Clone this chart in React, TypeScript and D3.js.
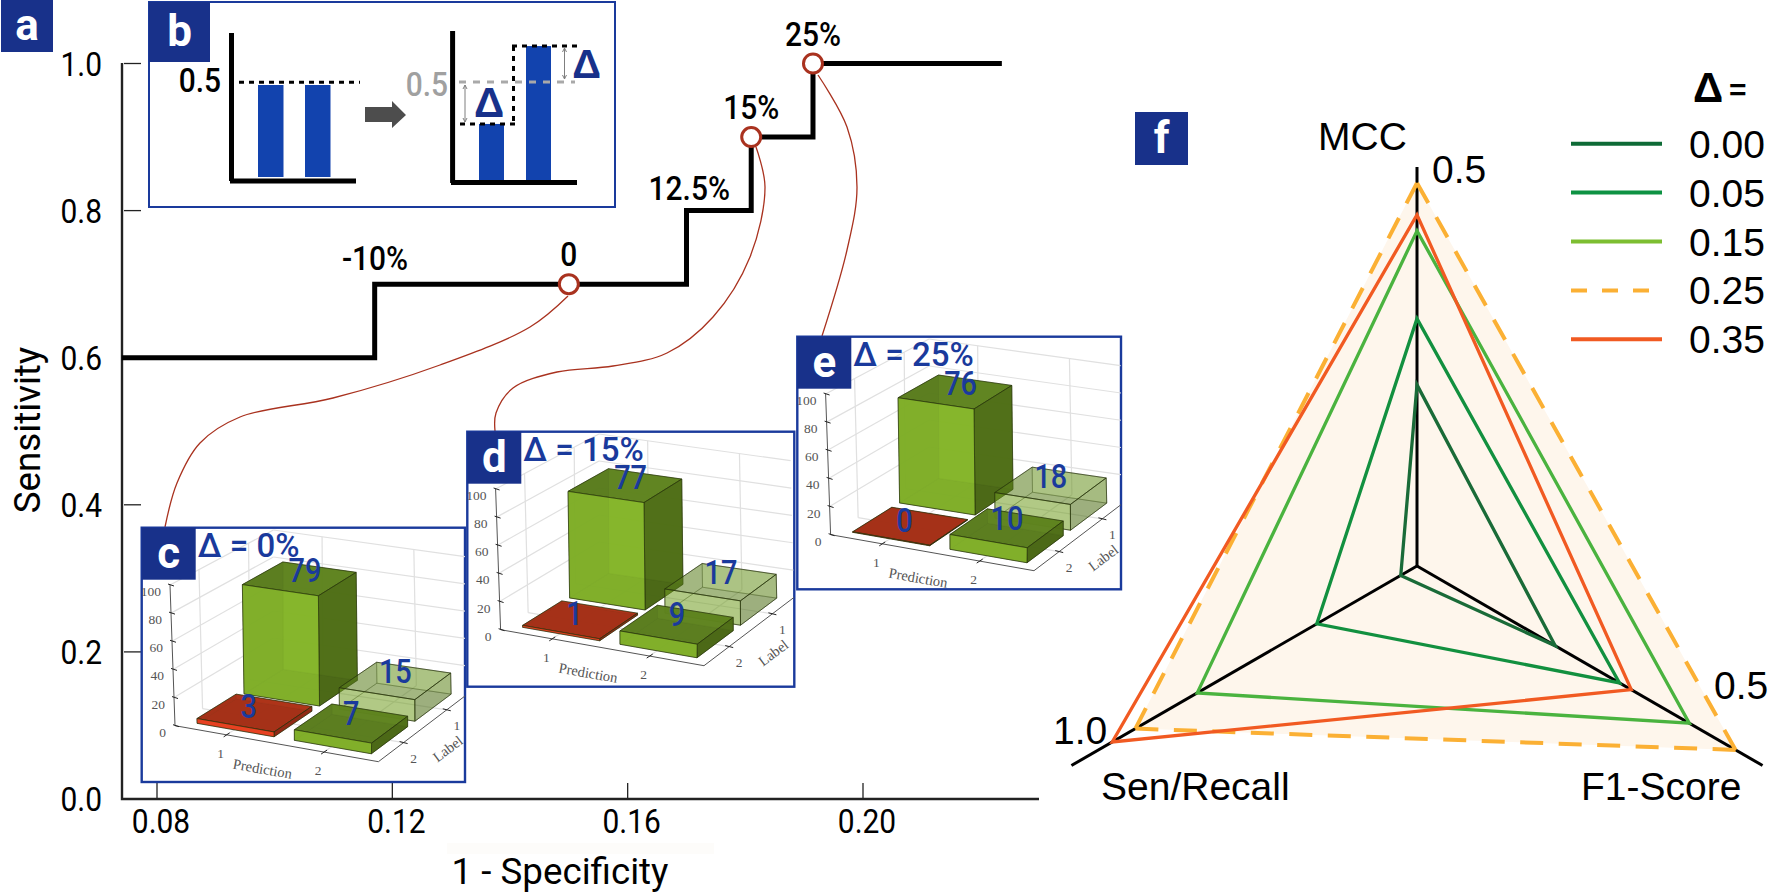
import React from 'react';
import * as d3 from 'd3';

const width = 1770;
const height = 892;

const NAVY = '#18318a';
const BLUE = '#1a3a9c';
const DIN = 'Roboto, sans-serif';
const ARIAL = '"Liberation Sans", Arial, sans-serif';
const SERIF = '"Liberation Serif", serif';
const RED = '#a9321f';

// panel a: the operating curve
const stepSpecificity = [0.074, 0.117, 0.17, 0.181, 0.1915, 0.2236];
const stepSensitivity = [0.6, 0.7, 0.8, 0.9, 1.0, 1.0];
const xTicks = [0.08, 0.12, 0.16, 0.2];
const yTicks = [0, 0.2, 0.4, 0.6, 0.8, 1.0];
const deltaNames = ['-10%', '0', '12.5%', '15%', '25%'];
const deltaX = [0.1175, 0.15, 0.1703, 0.181, 0.1915];
const deltaY = [0.7, 0.7, 0.8, 0.9, 1.0];
const markerNames = ['0', '15%', '25%'];

// panel b: threshold sketch
const sketchBefore = [0.5, 0.5];
const sketchAfter = [0.295, 0.705];

// panels c, d, e: confusion matrices, [pred1 label1, pred2 label1, pred1 label2, pred2 label2]
const panelLetters = ['c', 'd', 'e'];
const panelTitles = ['Δ = 0%', 'Δ = 15%', 'Δ = 25%'];
const panelValues = [
  [79, 15, 3, 7],
  [77, 17, 1, 9],
  [76, 18, 0, 10],
];
const zTicks = [0, 20, 40, 60, 80, 100];

// panel f: radar
const radarAxes = ['MCC', 'Sen/Recall', 'F1-Score'];
const radarMax = [0.5, 1.0, 0.5];
const legendNames = ['0.00', '0.05', '0.15', '0.25', '0.35'];
const mccValues = [0.227, 0.31, 0.42, 0.48, 0.44];
const senValues = [0.047, 0.29, 0.636, 0.815, 0.882];
const f1Values = [0.2, 0.293, 0.394, 0.461, 0.31];
const lineColors = ['#1a6b38', '#12903f', '#4ab33f', '#fbb034', '#f15a22'];
const legendColors = ['#0e6b36', '#0d9243', '#7dbe31', '#fbb034', '#f15a22'];

const x = d3.scaleLinear().domain([0.08, 0.2]).range([157, 863]);
const y = d3.scaleLinear().domain([0, 1]).range([799, 63.5]);

function Din({ x, y, size = 34, sx = 0.88, anchor = 'middle', fill = '#000', weight = 500, rotate = 0, children }: any) {
  return (
    <text
      transform={`translate(${x},${y}) rotate(${rotate}) scale(${sx},1)`}
      fontFamily={DIN}
      fontSize={size}
      fontWeight={weight}
      textAnchor={anchor}
      fill={fill}
    >
      {children}
    </text>
  );
}

function LetterBox({ x, y, w, h, letter }: any) {
  return (
    <g>
      <rect x={x} y={y} width={w} height={h} fill={NAVY} />
      <text x={x + w / 2} y={y + h / 2 + 14} textAnchor="middle" fontFamily={DIN} fontWeight={700} fontSize={44} fill="#fff">
        {letter}
      </text>
    </g>
  );
}

// corners of the 3D box, inside the panel: front-left, front-right, back-right, back-left
const floorCorners = [[33.3, 198], [236.7, 234], [326.7, 165.7], [131.7, 137.3]];
const roofCorners = [[28.3, 57.3], [240, 89], [323.3, 29], [131.7, 2.3]];
const zScale = d3.scaleLinear().domain([0, 100]).range([0, 1]);

function project(u: number, v: number, w: number): [number, number] {
  const blend = (c: number[][], i: number) =>
    (1 - u) * (1 - v) * c[0][i] + u * (1 - v) * c[1][i] + u * v * c[2][i] + (1 - u) * v * c[3][i];
  return [
    blend(floorCorners, 0) * (1 - w) + blend(roofCorners, 0) * w,
    blend(floorCorners, 1) * (1 - w) + blend(roofCorners, 1) * w,
  ];
}

const poly = (pts: [number, number][]) => d3.line()(pts) + 'Z';
const seg = (a: [number, number], b: [number, number]) => d3.line()([a, b]) as string;

const uCenters = [0.26, 0.74];
const vCenters = [0.76, 0.28];
const tickU = [0.254, 0.733];
const tickV = [0.28, 0.76];
const halfU = 0.19;
const halfV = 0.2;
const labelDx = [5, 0, -6, 0];
const labelDy = [3, 2, 5, 1];

function Bar3D({ value, col, row, kind }: any) {
  const u0 = uCenters[col] - halfU;
  const u1 = uCenters[col] + halfU;
  const v0 = vCenters[row] - halfV;
  const v1 = vCenters[row] + halfV;
  const w = zScale(value) + 0.004;
  const isRed = kind === 'red';
  const front = isRed ? '#f0401e' : '#84b428';
  const top = isRed ? '#a32d14' : '#587b1c';
  const right = isRed ? '#8a2410' : '#466312';
  const alpha = kind === 'pale' ? 0.33 : 0.86;
  const line = '#26330c';
  const faces = [
    { pts: [project(u0, v0, 0), project(u1, v0, 0), project(u1, v1, 0), project(u0, v1, 0)], fill: top },
    { pts: [project(u0, v1, 0), project(u1, v1, 0), project(u1, v1, w), project(u0, v1, w)], fill: front },
    { pts: [project(u0, v0, 0), project(u0, v1, 0), project(u0, v1, w), project(u0, v0, w)], fill: top },
    { pts: [project(u0, v0, w), project(u1, v0, w), project(u1, v1, w), project(u0, v1, w)], fill: top },
    { pts: [project(u1, v0, 0), project(u1, v1, 0), project(u1, v1, w), project(u1, v0, w)], fill: right },
    { pts: [project(u0, v0, 0), project(u1, v0, 0), project(u1, v0, w), project(u0, v0, w)], fill: front },
  ];
  return (
    <g>
      {faces.map((f, i) => (
        <path key={i} d={poly(f.pts as [number, number][])} fill={f.fill} fillOpacity={alpha} stroke={line} strokeOpacity={i < 3 ? 0.35 : 0.85} strokeWidth={0.8} />
      ))}
    </g>
  );
}

function Matrix({ px, py, w, h, index }: any) {
  const values = panelValues[index];
  const grid = '#e0e0e0';
  const axis = '#555';
  const cells = [
    { col: 0, row: 0, kind: 'solid' },
    { col: 1, row: 0, kind: 'pale' },
    { col: 0, row: 1, kind: 'red' },
    { col: 1, row: 1, kind: 'solid' },
  ];
  return (
    <g>
      <rect x={px} y={py} width={w} height={h} fill="#fff" stroke={BLUE} strokeWidth={2.4} />
      <svg x={px} y={py} width={w} height={h} overflow="hidden">
        {zTicks.slice(1).map((t) => (
          <g key={t} fill="none" stroke={grid} strokeWidth={1.2}>
            <path d={seg(project(0, 0, zScale(t)), project(0, 1, zScale(t)))} />
            <path d={seg(project(0, 1, zScale(t)), project(1, 1, zScale(t)))} />
          </g>
        ))}
        {tickV.map((t) => (
          <g key={t} fill="none" stroke={grid} strokeWidth={1.2}>
            <path d={seg(project(0, t, 0), project(0, t, 1))} />
            <path d={seg(project(0, t, 0), project(1, t, 0))} />
          </g>
        ))}
        {tickU.map((t) => (
          <g key={t} fill="none" stroke={grid} strokeWidth={1.2}>
            <path d={seg(project(t, 1, 0), project(t, 1, 1))} />
            <path d={seg(project(t, 0, 0), project(t, 1, 0))} />
          </g>
        ))}
        <g fill="none" stroke={axis} strokeWidth={1}>
          <path d={seg(project(0, 0, 0), project(1, 0, 0))} />
          <path d={seg(project(1, 0, 0), project(1, 1, 0))} />
          <path d={seg(project(0, 0, 0), project(0, 0, 1))} />
        </g>
        {zTicks.map((t) => {
          const p = project(0, 0, zScale(t));
          return (
            <g key={t}>
              <path d={`M${p[0] - 2},${p[1] - 1}L${p[0] + 4},${p[1] + 1}`} stroke="#222" strokeWidth={1} />
              <text x={p[0] - 9} y={p[1] + 11} textAnchor="end" fontFamily={SERIF} fontSize={13.5} fill="#555">{t}</text>
            </g>
          );
        })}
        {tickU.map((t, i) => {
          const p = project(t, 0, 0);
          return (
            <g key={t}>
              <path d={`M${p[0] - 3},${p[1] + 2}L${p[0] + 3},${p[1] - 2}`} stroke="#222" strokeWidth={1} />
              <text x={p[0] - 6} y={p[1] + 23} textAnchor="middle" fontFamily={SERIF} fontSize={13.5} fill="#555">{i + 1}</text>
            </g>
          );
        })}
        {tickV.map((t, i) => {
          const p = project(1, t, 0);
          return (
            <g key={t}>
              <path d={`M${p[0] - 4},${p[1] - 1}L${p[0] + 4},${p[1] + 1}`} stroke="#222" strokeWidth={1} />
              <text x={p[0] + 10} y={p[1] + 20} textAnchor="middle" fontFamily={SERIF} fontSize={13.5} fill="#555">{2 - i}</text>
            </g>
          );
        })}
        <text transform="translate(120,246) rotate(10)" textAnchor="middle" fontFamily={SERIF} fontSize={14.5} fill="#555">Prediction</text>
        <text transform="translate(309,225) rotate(-37)" textAnchor="middle" fontFamily={SERIF} fontSize={14.5} fill="#555">Label</text>
        {cells.map((c, i) => (
          <Bar3D key={i} value={values[i]} col={c.col} row={c.row} kind={c.kind} />
        ))}
        {cells.map((c, i) => {
          const p = project(uCenters[c.col], vCenters[c.row], zScale(values[i]));
          return (
            <Din key={i} x={p[0] + labelDx[i]} y={p[1] + labelDy[i]} size={34} sx={0.85} fill={BLUE}>
              {values[i]}
            </Din>
          );
        })}
      </svg>
      <LetterBox x={px} y={py} w={54} h={52} letter={panelLetters[index]} />
      <Din x={px + 56} y={py + 29} size={33} anchor="start" fill={BLUE} sx={1}>{panelTitles[index]}</Din>
    </g>
  );
}

function Sketch() {
  const yb = d3.scaleLinear().domain([0, 0.5]).range([180, 85]);
  const leftBars = [258, 305];
  const rightBars = [479, 526];
  const thick = { stroke: '#000', strokeWidth: 5, fill: 'none' };
  const grey = '#7f7f7f';
  const hi = yb(sketchAfter[1]);
  const lo = yb(sketchAfter[0]);
  return (
    <g>
      <rect x={149} y={2} width={466} height={205} fill="#fff" stroke={BLUE} strokeWidth={2} />
      <path d="M231.5,33V181M230,181H356" {...thick} />
      {sketchBefore.map((v, i) => (
        <rect key={i} x={leftBars[i]} y={yb(v)} width={25.5} height={yb(0) - yb(v) - 3} fill="#1243ae" />
      ))}
      <path d="M239,82.3H360" stroke="#000" strokeWidth={3} strokeDasharray="5 5" />
      <Din x={221} y={92} anchor="end">0.5</Din>
      <path d="M365,107H392V101L406,115L392,128V122H365Z" fill="#4d4d4d" />
      <path d="M452.6,31V183M451,182.5H577" {...thick} />
      {sketchAfter.map((v, i) => (
        <rect key={i} x={rightBars[i]} y={yb(v)} width={25} height={yb(0) - yb(v)} fill="#1243ae" />
      ))}
      <path d="M459,82H575" stroke="#a9a9a9" strokeWidth={3} strokeDasharray="7 7" />
      <Din x={448} y={96} anchor="end" fill="#a0a0a0">0.5</Din>
      <path d={`M460,${lo}H515M512,${hi}H577M513.5,${hi}V${lo}`} stroke="#000" strokeWidth={3} strokeDasharray="5 5" fill="none" />
      <g stroke={grey} strokeWidth={1} fill="none">
        <path d="M465,85V122M463,89L465,85L467,89M463,118L465,122L467,118" />
        <path d="M564.5,48V79M562.5,52L564.5,48L566.5,52M562.5,75L564.5,79L566.5,75" />
      </g>
      <text x={489} y={117} textAnchor="middle" fontFamily={ARIAL} fontWeight={700} fontSize={42} fill={NAVY}>Δ</text>
      <text x={586.5} y={78} textAnchor="middle" fontFamily={ARIAL} fontWeight={700} fontSize={40} fill={NAVY}>Δ</text>
      <LetterBox x={149} y={2} w={61} h={60} letter="b" />
    </g>
  );
}

// dash pattern that starts and ends on a dash, so the corners of the triangle stay closed
function fitDash(a: [number, number], b: [number, number], dash = 23, period = 39) {
  const len = Math.hypot(b[0] - a[0], b[1] - a[1]);
  const n = Math.max(1, Math.round((len - dash) / period));
  return `${dash} ${(len - dash * (n + 1)) / n}`;
}

function Radar() {
  const cx = 1417;
  const cy = 566;
  const R = 399;
  const angles = [-90, 150, 30].map((d) => (d * Math.PI) / 180);
  const radial = radarMax.map((m) => d3.scaleLinear().domain([0, m]).range([0, R]));
  const at = (axis: number, v: number): [number, number] => [
    cx + radial[axis](v) * Math.cos(angles[axis]),
    cy + radial[axis](v) * Math.sin(angles[axis]),
  ];
  const closed = d3.line().curve(d3.curveLinearClosed);
  const corners = legendNames.map((_, i) => [at(0, mccValues[i]), at(1, senValues[i]), at(2, f1Values[i])]);
  const polys = corners.map((c) => closed(c) as string);
  const fontProps = { fontFamily: ARIAL, fontSize: 39, fill: '#000' };
  return (
    <g>
      <path d={polys[3]} fill="#fef6ec" stroke="none" />
      {radarMax.map((m, i) => (
        <path key={i} d={seg([cx, cy], at(i, m))} stroke="#000" strokeWidth={3} />
      ))}
      {polys.map((d, i) =>
        i >= 3 ? null : <path key={i} d={d} fill="none" stroke={lineColors[i]} strokeWidth={3.3} />
      )}
      {corners[3].map((c, i) => {
        const next = corners[3][(i + 1) % 3];
        return <path key={i} d={seg(c, next)} stroke={lineColors[3]} strokeWidth={4} strokeDasharray={fitDash(c, next)} />;
      })}
      <path d={polys[4]} fill="none" stroke={lineColors[4]} strokeWidth={3.3} />
      <text x={1318} y={150} {...fontProps}>{radarAxes[0]}</text>
      <text x={1101} y={800} {...fontProps}>{radarAxes[1]}</text>
      <text x={1581} y={800} {...fontProps}>{radarAxes[2]}</text>
      <text x={1432} y={183} {...fontProps}>{radarMax[0].toFixed(1)}</text>
      <text x={1053} y={744} {...fontProps}>{radarMax[1].toFixed(1)}</text>
      <text x={1714} y={699} {...fontProps}>{radarMax[2].toFixed(1)}</text>
      <text x={1693} y={102} fontFamily={ARIAL} fontWeight={700} fontSize={42}>Δ</text>
      <text x={1729} y={100} fontFamily={ARIAL} fontWeight={700} fontSize={30}>=</text>
      {legendNames.map((name, i) => {
        const ly = 143.7 + i * 48.9;
        return (
          <g key={name}>
            <path d={`M1571,${ly}H1662`} stroke={legendColors[i]} strokeWidth={4} strokeDasharray={i === 3 ? '16 15' : undefined} />
            <text x={1689} y={ly + 14} {...fontProps}>{name}</text>
          </g>
        );
      })}
      <LetterBox x={1135} y={112} w={53} h={53} letter="f" />
    </g>
  );
}

// hand-placed leader lines from the markers to the inset panels
const leaderA: [number, number][] = [[568, 296], [530, 327], [440, 365], [333, 398], [240, 417], [200, 443], [177, 483], [165, 527]];
const leaderB: [number, number][] = [[756, 147], [765, 187], [750, 257], [713, 317], [667, 353], [613, 366], [557, 372], [513, 388], [496, 413], [495, 431]];
const leaderC: [number, number][] = [[818, 75], [847, 127], [857, 187], [847, 250], [822, 336]];

export default function App() {
  const step = d3.line<number>()
    .x((d) => x(d))
    .y((_, i) => y(stepSensitivity[i]))
    .curve(d3.curveStepAfter)(stepSpecificity) as string;
  const leader = d3.line().curve(d3.curveCatmullRom);
  return (
    <svg width={width} height={height} style={{ position: 'absolute', left: 0, top: 0, background: '#fff' }}>
      <rect x={447} y={843} width={267} height={11} fill="#fdfcfa" />
      <g stroke="#222" fill="none">
        <path d="M122,63V799H1039" strokeWidth={2.4} />
        {yTicks.map((t) => <path key={t} d={`M124,${y(t)}H141`} strokeWidth={1.3} />)}
        {xTicks.map((t) => <path key={t} d={`M${x(t)},798V783`} strokeWidth={1.3} />)}
      </g>
      {yTicks.map((t) => (
        <Din key={t} x={102} y={y(t) + 12} anchor="end" weight={400}>{t.toFixed(1)}</Din>
      ))}
      {xTicks.map((t) => (
        <Din key={t} x={x(t) + 4} y={833} weight={400}>{t.toFixed(2)}</Din>
      ))}
      <Din x={560} y={884} size={36} sx={1.02} weight={400}>1 - Specificity</Din>
      <Din x={40} y={430} size={36} sx={1.02} weight={400} rotate={-90}>Sensitivity</Din>
      <path d={step} fill="none" stroke="#000" strokeWidth={5} />
      <g fill="none" stroke={RED} strokeWidth={1.3}>
        <path d={leader(leaderA) as string} />
        <path d={leader(leaderB) as string} />
        <path d={leader(leaderC) as string} />
      </g>
      {deltaNames.map((name, i) => {
        const marked = markerNames.includes(name);
        return (
          <g key={name}>
            {marked && <circle cx={x(deltaX[i])} cy={y(deltaY[i])} r={9.5} fill="#fff" stroke={RED} strokeWidth={3} />}
            <Din x={name === '-10%' ? 375 : x(deltaX[i]) + (name === '12.5%' ? 1 : 0)} y={y(deltaY[i]) - (name === '12.5%' ? 11 : marked ? 18 : 14)}>
              {name}
            </Din>
          </g>
        );
      })}
      <Sketch />
      <Matrix px={141.7} py={527.7} w={323.3} h={254.3} index={0} />
      <Matrix px={467.3} py={431.7} w={327} h={255} index={1} />
      <Matrix px={797.3} py={336.7} w={323.7} h={252.6} index={2} />
      <Radar />
      <rect x={1} y={0} width={52} height={52} fill={NAVY} />
      <text x={27} y={40} textAnchor="middle" fontFamily={DIN} fontWeight={700} fontSize={44} fill="#fff">a</text>
    </svg>
  );
}
